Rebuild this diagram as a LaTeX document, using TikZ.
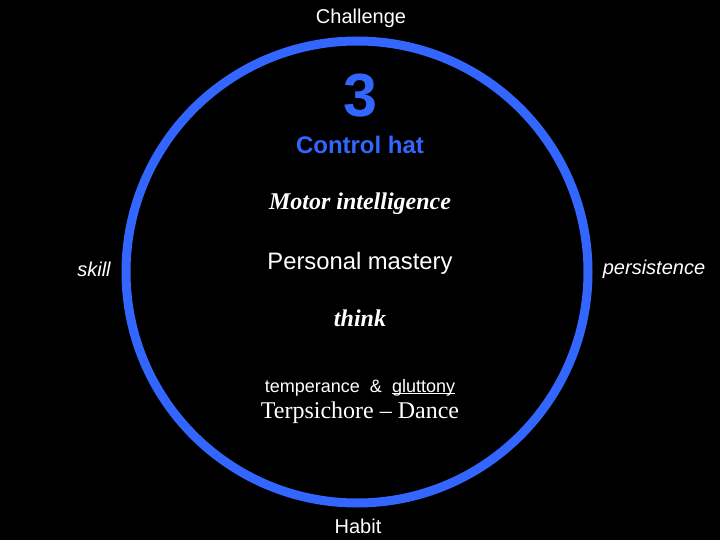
\documentclass[tikz,border=0pt]{standalone}
\usepackage{fontspec}
\setmainfont{Liberation Serif}
\setsansfont{Liberation Sans}
\definecolor{ringblue}{RGB}{51,102,255}
\newcommand\myul[1]{\setbox0\hbox{#1}\rlap{\rule[-2pt]{\wd0}{1.1pt}}\box0}
\begin{document}
\begin{tikzpicture}[x=1pt,y=-1pt,
  lbl/.style={text=white,inner sep=0pt,anchor=base},
  sanslbl/.style={lbl,font=\sffamily\fontsize{20}{24}\selectfont},
  sidelbl/.style={lbl,font=\sffamily\itshape\fontsize{20}{24}\selectfont},
  serifbi/.style={lbl,font=\rmfamily\bfseries\itshape\fontsize{24}{28}\selectfont},
  bluelbl/.style={lbl,text=ringblue,font=\sffamily\bfseries}]
\fill[black] (0,0) rectangle (720,540);
\useasboundingbox (0,0) rectangle (720,540);
\draw[ringblue,line width=9pt] (357,272) circle[radius=231pt];
\node[sanslbl] (challenge) at (361,24) {Challenge};
\node[bluelbl,font=\sffamily\bfseries\fontsize{61}{70}\selectfont] (three) at (360,117) {3};
\node[bluelbl,font=\sffamily\bfseries\fontsize{24}{28}\selectfont] (hat) at (360,154) {Control hat};
\node[serifbi] (motor) at (360,210) {Motor intelligence};
\node[lbl,font=\sffamily\fontsize{23.8}{28}\selectfont] (mastery) at (360,269) {Personal mastery};
\node[serifbi] (think) at (360,326) {think};
\node[lbl,font=\sffamily\fontsize{18}{22}\selectfont] (temper) at (360,392) {temperance~~\&~~\myul{gluttony}};
\node[lbl,font=\rmfamily\fontsize{24}{28}\selectfont] (dance) at (360,418) {Terpsichore -- Dance};
\node[sidelbl] (skill) at (94,276) {skill};
\node[sidelbl] (persist) at (654,274) {persistence};
\node[sanslbl] (habit) at (358,533) {Habit};
\end{tikzpicture}
\end{document}
